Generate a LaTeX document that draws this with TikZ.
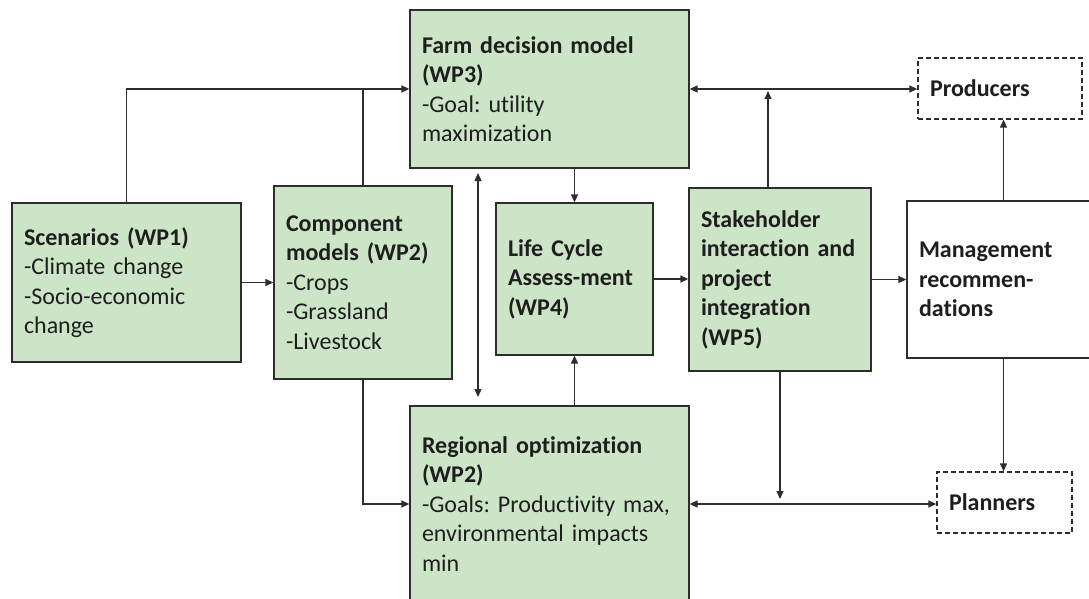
\documentclass[tikz,border=0pt]{standalone}
\usepackage{fontspec}
\setmainfont{Carlito}[Ligatures={NoCommon,NoRare}]
\usetikzlibrary{arrows.meta}
\definecolor{boxgreen}{RGB}{205,229,199}
\definecolor{edge}{RGB}{45,45,45}
\definecolor{txt}{RGB}{30,30,30}
\begin{document}
\begin{tikzpicture}[x=1pt,y=-1pt,
  box/.style={draw=edge, line width=1.3pt, rectangle, inner xsep=12pt, inner ysep=0pt, align=left, font=\fontsize{24}{29.5}\selectfont, text=txt},
  gbox/.style={box, fill=boxgreen},
  dbox/.style={box, dash pattern=on 5pt off 3pt, fill=white},
  conn/.style={draw=edge, line width=1.3pt},
  arr/.style={conn, -{Triangle[length=8pt,width=7pt]}},
  darr/.style={conn, {Triangle[length=8pt,width=7pt]}-{Triangle[length=8pt,width=7pt]}},
]
\useasboundingbox (0,0) rectangle (1089,599);
\clip (0,0) rectangle (1089,599);
\fill[white] (0,0) rectangle (1089,599);

\node[gbox, minimum width=229pt, minimum height=159pt, text width=205pt] (scen) at (126.5,282.5)
  {\textbf{Scenarios~(WP1)}\\-Climate~change\\-Socio-economic\\change};
\node[gbox, minimum width=178pt, minimum height=193pt, text width=154pt] (comp) at (363,282.5)
  {\textbf{Component}\\\textbf{models~(WP2)}\\-Crops\\-Grassland\\-Livestock};
\node[gbox, minimum width=279pt, minimum height=158pt, text width=255pt] (farm) at (549.5,89)
  {\textbf{Farm~decision~model}\\\textbf{(WP3)}\\-Goal:~utility\\maximization};
\node[gbox, minimum width=157pt, minimum height=152pt, text width=133pt] (lca) at (574.5,279)
  {\textbf{Life~Cycle}\\\textbf{Assess-ment}\\\textbf{(WP4)}};
\node[gbox, minimum width=182pt, minimum height=183pt, text width=158pt] (stake) at (780,279.5)
  {\textbf{Stakeholder}\\\textbf{interaction~and}\\\textbf{project}\\\textbf{integration}\\\textbf{(WP5)}};
\node[box, fill=white, minimum width=193pt, minimum height=157pt, text width=169pt] (mgmt) at (1003.5,279.5)
  {\textbf{Management}\\\textbf{recommen-}\\\textbf{dations}};
\node[dbox, minimum width=164pt, minimum height=61pt, text width=140pt] (prod) at (1000,88.5)
  {\textbf{Producers}};
\node[dbox, minimum width=135pt, minimum height=61pt, text width=111pt] (plan) at (1004.5,502.5)
  {\textbf{Planners}};
\node[gbox, minimum width=279pt, minimum height=196pt, text width=255pt] (reg) at (549.5,504)
  {\textbf{Regional~optimization}\\\textbf{(WP2)}\\-Goals:~Productivity~max,\\environmental~impacts\\min};

\coordinate (dtop) at (478,173);
\coordinate (dbot) at (478,397);

\draw[arr] (scen.north) |- (farm.west);
\draw[conn] (comp.north) -- (comp.north |- farm.west);
\draw[arr] (scen.east) -- (comp.west);
\draw[arr] (comp.south) |- (reg.west);
\draw[darr] (dtop) -- (dbot);
\draw[arr] (farm.south -| lca.north) -- (lca.north);
\draw[arr] (reg.north -| lca.south) -- (lca.south);
\draw[arr] (lca.east) -- (lca.east -| stake.west);
\draw[arr] (stake.east) -- (stake.east -| mgmt.west);
\draw[darr] (farm.east) -- (farm.east -| prod.west);
\draw[arr, shorten >=2pt] ([xshift=-12pt]stake.north) -- ([xshift=-12pt]stake.north |- farm.east);
\draw[arr] (mgmt.north) -- (mgmt.north |- prod.south);
\draw[arr] (mgmt.south) -- (mgmt.south |- plan.north);
\draw[darr] (reg.east) -- (reg.east -| plan.west);
\draw[arr, shorten >=5pt] (stake.south) -- (stake.south |- reg.east);
\end{tikzpicture}
\end{document}
